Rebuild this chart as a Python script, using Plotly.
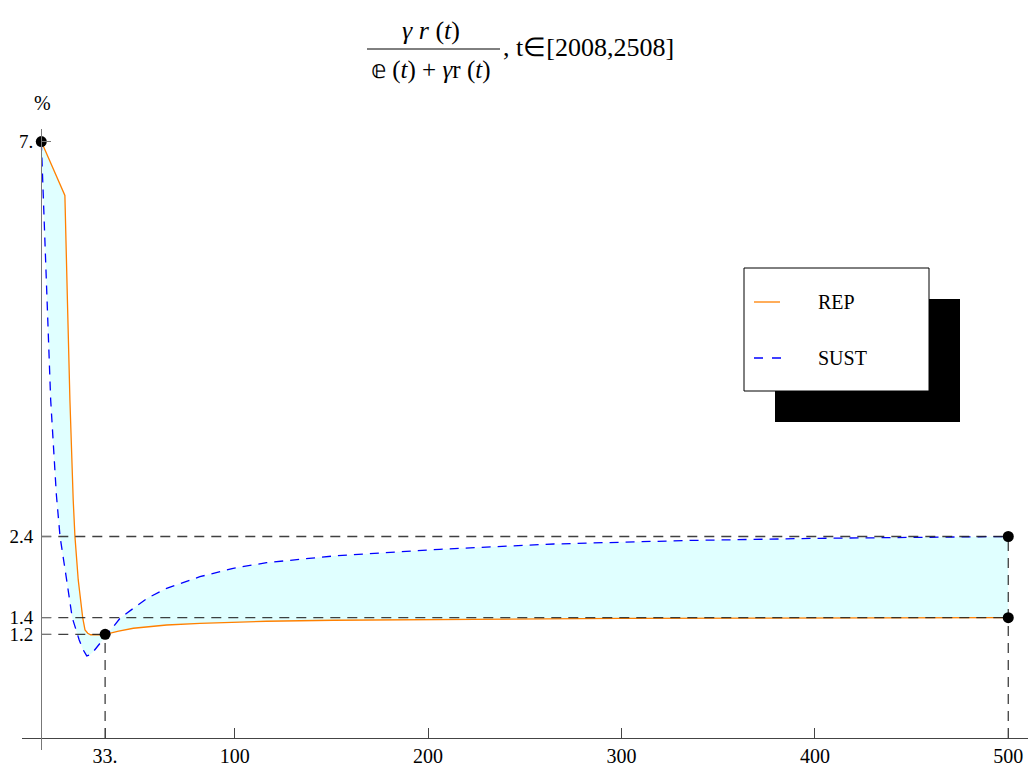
import plotly.graph_objects as go

# ---------------- data ----------------
rep_t = [0, 12.2, 13.5, 14.8, 16.5, 17.4, 19.1, 21.4, 22.6, 24.0, 25.5, 28.0, 30.5, 33.0,
         36, 40, 47.6, 55, 64.8, 82, 99, 116.5, 151, 206, 260, 300, 400, 500]
rep_y = [7.0, 6.368, 5.141, 3.968, 2.794, 2.363, 1.855, 1.412, 1.268, 1.23, 1.212, 1.208, 1.21, 1.217,
         1.235, 1.255, 1.288, 1.308, 1.326, 1.346, 1.36, 1.370, 1.382, 1.393, 1.399, 1.403, 1.409, 1.412]

sust_t = [0, 3.0, 4.85, 7.8, 9.7, 13.1, 16.0, 19.6, 21.5, 23.5, 25.0, 26.9, 30.0, 33.0, 37.0,
          40.7, 47.6, 55, 64.8, 82, 99.2, 116.5, 151, 206, 265, 334, 403, 460, 500]
sust_y = [7.0, 5.02, 3.968, 2.852, 2.363, 1.855, 1.412, 1.150, 1.04, 0.963, 0.975, 1.013, 1.103, 1.189, 1.303,
          1.405, 1.522, 1.643, 1.757, 1.893, 1.992, 2.058, 2.136, 2.215, 2.277, 2.318, 2.344, 2.359, 2.365]

start_t, start_y = 0, 7.0
min_t, min_y = 33, 1.217
end_t = 500
rep_end = 1.412
sust_end = 2.365
axis_y = 0

x_tickvals = [33, 100, 200, 300, 400, 500]
x_ticktext = ["33.", "100", "200", "300", "400", "500"]
y_tickvals = [min_y, rep_end, sust_end, start_y]
y_ticktext = ["1.2", "1.4", "2.4", "7."]

series_names = ["REP", "SUST"]

# ---------------- layout geometry ----------------
W, H = 1029, 771
ML, MR, MT, MB = 22, 1, 129, 21
PW, PH = W - ML - MR, H - MT - MB
xr = [-9.98, 510.2]
yr = [-0.141, 7.148]

def px(x):
    return (x - ML) / PW

def py(y):
    return (H - MB - y) / PH

FONT = "Liberation Serif, Times New Roman, serif"
ORANGE = "#FF8000"
BLUE = "#0000FF"
FILL = "rgb(224,255,255)"
GUIDE = "rgba(30,30,30,0.85)"

fig = go.Figure()

fig.add_trace(go.Scatter(x=sust_t, y=sust_y, mode="lines", name=series_names[1],
                         line=dict(color=BLUE, width=1.3, dash="9px,7px"), showlegend=False))
fig.add_trace(go.Scatter(x=rep_t, y=rep_y, mode="lines", name=series_names[0],
                         line=dict(color=ORANGE, width=1.3), fill="tonexty", fillcolor=FILL,
                         showlegend=False))

# guide lines
gx = [start_t, end_t, None, start_t, end_t, None, start_t, min_t, None, min_t, min_t, None, end_t, end_t]
gy = [sust_end, sust_end, None, rep_end, rep_end, None, min_y, min_y, None, axis_y, min_y, None, axis_y, sust_end]
fig.add_trace(go.Scatter(x=gx, y=gy, mode="lines", line=dict(color=GUIDE, width=1.3, dash="10px,7px"),
                         showlegend=False, connectgaps=False))

fig.add_trace(go.Scatter(x=[start_t, min_t, end_t, end_t], y=[start_y, min_y, sust_end, rep_end],
                         mode="markers", marker=dict(color="black", size=11), showlegend=False))

axis_common = dict(showgrid=False, zeroline=False, showline=True, ticks="inside", automargin=False)

fig.update_layout(
    width=W, height=H,
    margin=dict(l=ML, r=MR, t=MT, b=MB),
    paper_bgcolor="white", plot_bgcolor="white",
    showlegend=False,
    xaxis=dict(range=xr, anchor="free", position=(axis_y - yr[0]) / (yr[1] - yr[0]),
               tickvals=x_tickvals, ticktext=x_ticktext, ticklen=10, tickcolor="#444",
               linecolor="#444", linewidth=1,
               tickfont=dict(family=FONT, size=20, color="black"), **axis_common),
    yaxis=dict(range=yr, anchor="free", position=(0 - xr[0]) / (xr[1] - xr[0]),
               tickvals=y_tickvals, ticktext=y_ticktext, ticklen=9, tickcolor="#777",
               linecolor="#777", linewidth=1.3, ticklabelstandoff=4,
               tickfont=dict(family=FONT, size=19, color="black"), **axis_common),
)

shapes = [
    # fraction bar of the title
    dict(type="line", xref="paper", yref="paper", x0=px(367), x1=px(500), y0=py(49), y1=py(49),
         line=dict(color="black", width=1)),
    # legend shadow and box
    dict(type="rect", xref="paper", yref="paper", x0=px(775), x1=px(960), y0=py(299), y1=py(422),
         fillcolor="black", line=dict(width=0)),
    dict(type="rect", xref="paper", yref="paper", x0=px(744), x1=px(929), y0=py(268), y1=py(391),
         fillcolor="white", line=dict(color="black", width=1)),
    dict(type="line", xref="paper", yref="paper", x0=px(754), x1=px(780), y0=py(302), y1=py(302),
         line=dict(color=ORANGE, width=1.3)),
    dict(type="line", xref="paper", yref="paper", x0=px(754), x1=px(781), y0=py(358), y1=py(358),
         line=dict(color=BLUE, width=1.3, dash="9px,9px")),
]
fig.update_layout(shapes=shapes)

ann = [
    dict(text="<i>γ r</i> (<i>t</i>)", x=px(431), y=py(31), size=26),
    dict(text="𝕖 (<i>t</i>) + <i>γ</i>r (<i>t</i>)", x=px(431), y=py(70), size=25),
    dict(text=", t∈[2008,2508]", x=px(501), y=py(47), xanchor="left", size=26),
    dict(text="%", x=px(42), y=py(103), size=20),
    dict(text=series_names[0], x=px(816), y=py(302), xanchor="left", size=20),
    dict(text=series_names[1], x=px(816), y=py(358), xanchor="left", size=20),
]
for a in ann:
    size = a.pop("size")
    base = dict(xref="paper", yref="paper", showarrow=False, xanchor="center", yanchor="middle",
                font=dict(family=FONT, size=size, color="black"))
    base.update(a)
    fig.add_annotation(**base)

fig.write_html("out.html")
